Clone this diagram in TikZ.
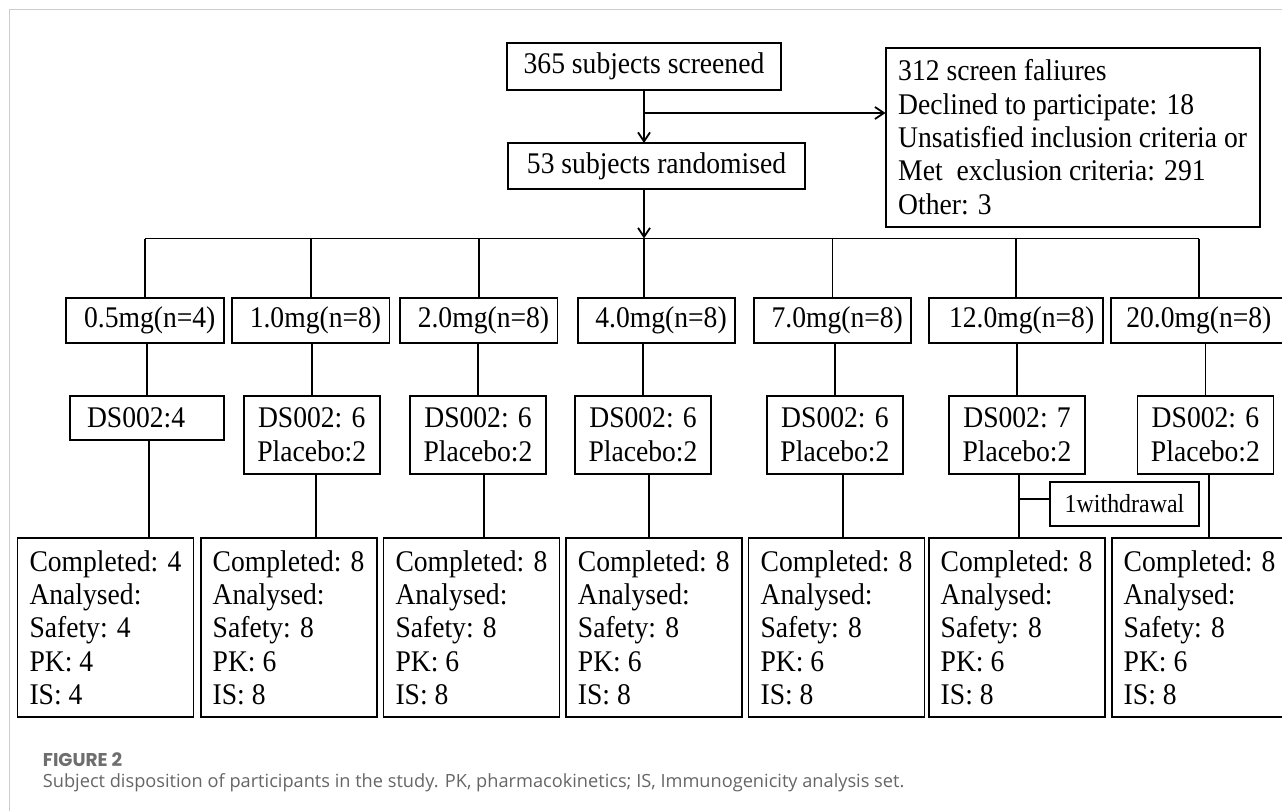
\documentclass[tikz,border=0pt]{standalone}
\usepackage{fontspec}
\setmainfont{Liberation Serif}[FakeStretch=0.92]
\newfontfamily\capfont{Open Sans}
\newfontfamily\labelfont{Poppins}
\usepackage{tikz}
\usepackage{xcolor}
\usetikzlibrary{positioning}
\usetikzlibrary{arrows.meta}
\definecolor{framegray}{HTML}{CCCCCC}
\definecolor{capgray}{HTML}{666666}
\definecolor{labelgray}{HTML}{6E6E6E}
\newcommand{\flowfont}{\fontsize{30}{33.3}\selectfont}
\newcommand{\smallflowfont}{\fontsize{26}{30}\selectfont}

\begin{document}
\begin{tikzpicture}
[
x = 1pt, y = -1pt,
box-a/.style={draw, line width = 1.8pt, inner sep = 0pt, outer sep = 0pt, font = \flowfont},
dose-a/.style={box-a, minimum height = 45.6pt, inner xsep = 8.4pt, align = right, text width = 140.7pt},
ds-a/.style={box-a, minimum width = 136pt, minimum height = 78pt, align = center},
done-a/.style={box-a, minimum width = 176pt, minimum height = 178.7pt, align = left},
line-a/.style={line width = 1.8pt},
arrow-a/.style={line-a, -{Straight Barb[length = 9pt, width = 12pt]}},
text-a/.style={anchor = west, inner sep = 0pt, text = capgray, font = \capfont\fontsize{18.2}{22}\selectfont}
]
\useasboundingbox (0,0) rectangle (1282,811);
\clip (0,0) rectangle (1282,811);
\draw[framegray, line width = 1.5pt] (9.3,811) |- (1282,9.3);

\node (screened)   [box-a, minimum width = 274pt, minimum height = 47pt]  at (644,66.5)     {365 subjects screened};
\node (randomised) [box-a, minimum width = 297pt, minimum height = 46pt]  at (656.5,166)    {53 subjects randomised};
\node (faliures)   [box-a, minimum width = 374pt, minimum height = 179pt, align = left] at (1072.6,137.2)
  {312 screen faliures\\Declined to participate: 18\\Unsatisfied inclusion criteria or\\Met~ exclusion criteria: 291\\Other: 3};

\node (dose-05)    [dose-a]                                     at (145.05,320.5) {0.5mg(n=4)};
\node (dose-10)    [dose-a, right = 08.20pt of dose-05]                           {1.0mg(n=8)};
\node (dose-20)    [dose-a, right = 10.50pt of dose-10]                           {2.0mg(n=8)};
\node (dose-40)    [dose-a, right = 20.10pt of dose-20]                           {4.0mg(n=8)};
\node (dose-70)    [dose-a, right = 18.70pt of dose-40]                           {7.0mg(n=8)};
\node (dose-120)   [dose-a, right = 17.30pt of dose-70,  text width = 157.2pt]    {12.0mg(n=8)};
\node (dose-200)   [dose-a, right = 08.20pt of dose-120, text width = 145pt, align = left, minimum width = 176pt] {20.0mg(n=8)};

\node (ds-05)      [box-a, text width = 119.4pt, inner xsep = 17.4pt, minimum height = 44.3pt, align = left] at (146.7,417.85) {DS002:4};
\node (ds-10)      [ds-a]                                       at (311.7,434.7)  {DS002: 6\\Placebo:2};
\node (ds-20)      [ds-a, right = 30.30pt of ds-10]                               {DS002: 6\\Placebo:2};
\node (ds-40)      [ds-a, right = 29.00pt of ds-20]                               {DS002: 6\\Placebo:2};
\node (ds-70)      [ds-a, right = 55.90pt of ds-40]                               {DS002: 6\\Placebo:2};
\node (ds-120)     [ds-a, right = 46.10pt of ds-70]                               {DS002: 7\\Placebo:2};
\node (ds-200)     [ds-a, right = 52.40pt of ds-120]                              {DS002: 6\\Placebo:2};

\node (withdrawal) [box-a, font = \smallflowfont, minimum width = 148.6pt, minimum height = 44.3pt] at (1124.5,503.9) {1withdrawal};

\node (done-05)    [done-a]                                     at (105.4,627.65) {Completed: 4\\Analysed:\\Safety: 4\\PK: 4\\IS: 4};
\node (done-10)    [done-a, right = 07.20pt of done-05]                           {Completed: 8\\Analysed:\\Safety: 8\\PK: 6\\IS: 8};
\node (done-20)    [done-a, right = 06.80pt of done-10]                           {Completed: 8\\Analysed:\\Safety: 8\\PK: 6\\IS: 8};
\node (done-40)    [done-a, right = 06.40pt of done-20]                           {Completed: 8\\Analysed:\\Safety: 8\\PK: 6\\IS: 8};
\node (done-70)    [done-a, right = 06.70pt of done-40]                           {Completed: 8\\Analysed:\\Safety: 8\\PK: 6\\IS: 8};
\node (done-120)   [done-a, right = 04.10pt of done-70]                           {Completed: 8\\Analysed:\\Safety: 8\\PK: 6\\IS: 8};
\node (done-200)   [done-a, right = 07.00pt of done-120]                          {Completed: 8\\Analysed:\\Safety: 8\\PK: 6\\IS: 8};

\node (fig-label)  [text-a, text = labelgray, font = \labelfont\bfseries\fontsize{18.5}{22}\selectfont] at (42.7,759.5) {FIGURE 2};
\node (fig-text)   [text-a]                                     at (42.7,783)     {Subject disposition of participants in the study. PK, pharmacokinetics; IS, Immunogenicity analysis set.};

\coordinate (split)    at (644,113);
\coordinate (hub)      at (644,238.5);
\coordinate (wd-split) at (1018.7,499.3);

% screening and randomisation
\draw[arrow-a] (screened.south) -- (screened.south |- randomised.north);
\draw[arrow-a] (split) -- (split -| faliures.west);
\draw[arrow-a] (screened.south |- randomised.south) -- (hub);
\draw[line-a] (hub) -- (hub |- dose-40.north);
\draw[line-a] (dose-05.north |- hub) -- (dose-200.north |- hub);
\foreach \d in {05,10,20,70,120,200}
  {\draw[line-a] (dose-\d.north |- hub) -- (dose-\d.north);}

% dose groups down to the analysis boxes
\foreach \d in {05,10,20,40,70,120,200}
  {\draw[line-a] (ds-\d.north) -- (ds-\d.north |- dose-\d.south);}
\foreach \d/\s in {05/2.5,10/4,20/5.7,40/6.3,70/7.7,120/1.7,200/3.4}
  {\coordinate (tail-\d) at ([xshift=\s]ds-\d.south);
   \draw[line-a] (tail-\d) -- (tail-\d |- done-\d.north);}
\draw[line-a] (wd-split) -- (wd-split -| withdrawal.west);
\end{tikzpicture}
\end{document}
